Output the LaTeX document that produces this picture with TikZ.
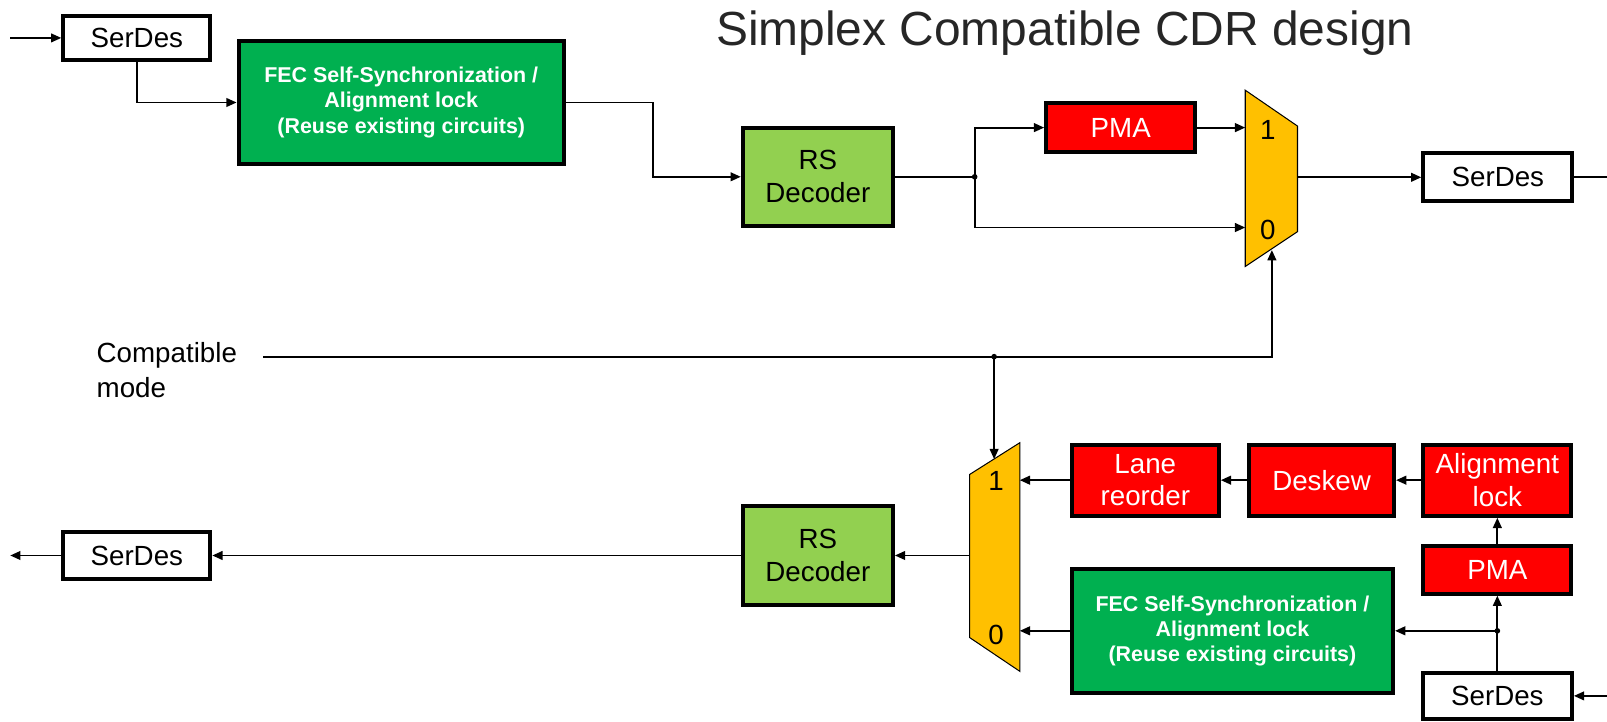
\documentclass[tikz,border=0pt]{standalone}
\usepackage{fontspec}
\setmainfont{Liberation Sans}
\usetikzlibrary{arrows.meta}
\definecolor{fecgreen}{HTML}{00B050}
\definecolor{rsgreen}{HTML}{92D050}
\definecolor{pmared}{HTML}{FF0000}
\definecolor{muxorange}{HTML}{FFC000}
\tikzset{
  blk/.style={draw=black, line width=0.078cm, inner sep=0pt, align=center,
    font=\fontsize{15.4}{18.2}\selectfont},
  serdes/.style={blk, fill=white, text=black},
  rsbox/.style={blk, fill=rsgreen, text=black},
  redbox/.style={blk, fill=pmared, text=white},
  fecbox/.style={blk, fill=fecgreen, text=white, font=\fontsize{11.9}{13.9}\selectfont\bfseries},
  conn/.style={line width=0.036cm, line join=miter},
  arr/.style={conn, -{Triangle[length=0.2cm,width=0.17cm]}},
  muxshape/.style={draw=black, line width=0.02cm, fill=muxorange},
  muxlbl/.style={font=\fontsize{15.4}{18.2}\selectfont, inner sep=0pt},
  dot/.style={circle, fill=black, inner sep=0pt, minimum size=0.11cm},
}
\begin{document}
\begin{tikzpicture}[x=0.02cm,y=-0.02cm]
\useasboundingbox (0,0) rectangle (1568,704);

% title
\node[anchor=base, font=\fontsize{26.6}{30}\selectfont, text=black!85] (title) at (1039,44) {Simplex Compatible CDR design};

% ---------- top path ----------
\node[serdes, minimum width=2.87cm, minimum height=0.85cm] (sd1) at (133.5,37) {SerDes};
\node[fecbox, minimum width=6.35cm, minimum height=2.41cm] (fec1) at (391.5,100) {FEC Self-Synchronization /\\Alignment lock\\(Reuse existing circuits)};
\node[rsbox, minimum width=2.93cm, minimum height=1.91cm] (rs1) at (798,172.5) {RS\\Decoder};
\node[redbox, minimum width=2.91cm, minimum height=0.95cm] (pma1) at (1093.5,124.5) {PMA};
\node[serdes, minimum width=2.91cm, minimum height=0.93cm] (sd2) at (1461.5,173) {SerDes};

% mux 1
\coordinate (m1a) at (1215,88);
\coordinate (m1b) at (1266,123);
\coordinate (m1c) at (1266,226);
\coordinate (m1d) at (1215,260);
\filldraw[muxshape] (m1a) -- (m1b) -- (m1c) -- (m1d) -- cycle;
\node[muxlbl] (m1l1) at (1237,127) {1};
\node[muxlbl] (m1l0) at (1237,224) {0};
\coordinate (m1in1) at (1215,124.5);
\coordinate (m1in0) at (1215,222);
\coordinate (m1out) at (1266,173);
\coordinate (m1sel) at (1241,244);

\coordinate (in1) at (10,37);
\coordinate (out1) at (1568,173);
\coordinate (j1) at (951,172.5);

\draw[arr] (in1) -- (sd1.west);
\draw[arr] (sd1.south) |- (fec1.west);
\draw[arr] (fec1.east) -- ++(85,0) |- (rs1.west);
\draw[conn] (rs1.east) -- (j1);
\node[dot] (j1dot) at (j1) {};
\draw[arr] (j1) |- (pma1.west);
\draw[arr] (j1) |- (m1in0);
\draw[arr] (pma1.east) -- (m1in1);
\draw[arr] (m1out) -- (sd2.west);
\draw[conn] (sd2.east) -- (out1);

% ---------- compatible mode ----------
\node[anchor=west, align=left, inner sep=0pt, font=\fontsize{15.4}{19.3}\selectfont] (cm) at (94,361) {Compatible\\mode};
\coordinate (cmstart) at (257,348);
\coordinate (j2) at (970,348);
\coordinate (cmcorner) at (1241,348);
\draw[arr] (cmstart) -- (cmcorner) -- (m1sel);
\node[dot] (j2dot) at (j2) {};

% ---------- bottom path ----------
\node[redbox, minimum width=2.87cm, minimum height=1.39cm] (lane) at (1117.5,468.5) {Lane\\reorder};
\node[redbox, minimum width=2.83cm, minimum height=1.39cm] (deskew) at (1289.5,468.5) {Deskew};
\node[redbox, minimum width=2.89cm, minimum height=1.39cm] (align) at (1461,468.5) {Alignment\\lock};
\node[redbox, minimum width=2.89cm, minimum height=0.93cm] (pma2) at (1461,556) {PMA};
\node[fecbox, minimum width=6.27cm, minimum height=2.43cm] (fec2) at (1202.5,615.5) {FEC Self-Synchronization /\\Alignment lock\\(Reuse existing circuits)};
\node[serdes, minimum width=2.91cm, minimum height=0.89cm] (sd3) at (1461,679) {SerDes};
\node[rsbox, minimum width=2.93cm, minimum height=1.93cm] (rs2) at (798,542) {RS\\Decoder};
\node[serdes, minimum width=2.87cm, minimum height=0.91cm] (sd4) at (133.5,542) {SerDes};

% mux 2
\coordinate (m2a) at (946,463);
\coordinate (m2b) at (995,432);
\coordinate (m2c) at (995,655);
\coordinate (m2d) at (946,622);
\filldraw[muxshape] (m2a) -- (m2b) -- (m2c) -- (m2d) -- cycle;
\node[muxlbl] (m2l1) at (972,469) {1};
\node[muxlbl] (m2l0) at (972,620) {0};
\coordinate (m2in1) at (995,468.5);
\coordinate (m2in0) at (995,615.5);
\coordinate (m2out) at (946,542);
\coordinate (m2sel) at (970,448);

\coordinate (in3) at (1568,679);
\coordinate (out4) at (10,542);
\coordinate (j3) at (1461,615.5);

\draw[arr] (j2) -- (m2sel);
\draw[arr] (align.west) -- (deskew.east);
\draw[arr] (deskew.west) -- (lane.east);
\draw[arr] (lane.west) -- (m2in1);
\draw[arr] (pma2.north) -- (align.south);
\draw[arr] (in3) -- (sd3.east);
\draw[conn] (sd3.north) -- (j3);
\draw[arr] (j3) -- (pma2.south);
\draw[arr] (j3) -- (fec2.east);
\node[dot] (j3dot) at (j3) {};
\draw[arr] (fec2.west) -- (m2in0);
\draw[arr] (m2out) -- (rs2.east);
\draw[arr] (rs2.west) -- (sd4.east);
\draw[arr] (sd4.west) -- (out4);
\end{tikzpicture}
\end{document}
